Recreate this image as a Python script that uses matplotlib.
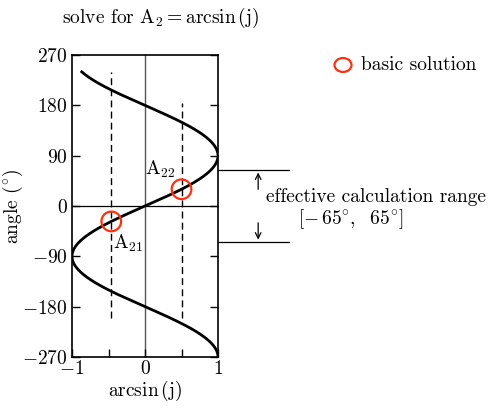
import numpy as np
import matplotlib
matplotlib.use("Agg")
import matplotlib.pyplot as plt

plt.rcParams['font.family'] = ['cmr10', 'DejaVu Serif']
plt.rcParams['mathtext.fontset'] = 'cm'
plt.rcParams['axes.unicode_minus'] = False

# curve: arcsin(j) = sin(angle), angle swept in degrees
angle_start = -270
angle_end = 240

# solution points (angle in degrees)
sol_names = [r"$\mathrm{A}_{21}$", r"$\mathrm{A}_{22}$"]
sol_angles = [-27.5, 30]

# dashed guide lines: x position, lower and upper angle
guide_x = [-0.46, 0.5]
guide_lo = [-200, -200]
guide_hi = [240, 184]

# effective range limits
range_lim = [-65, 65]

yticks = [-270, -180, -90, 0, 90, 180, 270]
xticks = [-1, 0, 1]
xminor = [-0.5, 0.5]

FS = 14

fig = plt.figure(figsize=(4.99, 4.08), dpi=100)
ax = fig.add_axes([0.1443, 0.125, 0.2926, 0.740])

theta = np.linspace(angle_start, angle_end, 600)
ax.plot(np.sin(np.radians(theta)), theta, color='black', lw=2.0, zorder=3)

for gx, lo, hi in zip(guide_x, guide_lo, guide_hi):
    ax.plot([gx, gx], [lo, hi], color='black', lw=1.0, ls=(0, (5, 3)), zorder=2)

ax.axhline(0, color='black', lw=0.9, zorder=1)
ax.axvline(0, color='#555555', lw=1.0, zorder=1)

sx = np.sin(np.radians(sol_angles))
ax.scatter(sx, sol_angles, s=200, facecolors='none', edgecolors='#ff3010',
           linewidths=1.6, zorder=4)
ax.text(sx[0] + 0.02, sol_angles[0] - 20, sol_names[0], fontsize=FS,
        ha='left', va='top')
ax.text(sx[1] - 0.08, sol_angles[1] + 16, sol_names[1], fontsize=FS,
        ha='right', va='bottom')

ax.set_xlim(-1, 1)
ax.set_ylim(-270, 270)
ax.set_yticks(yticks)
ax.set_yticklabels([f"${v}$" for v in yticks])
ax.set_xticks(xticks)
ax.set_xticklabels([f"${v}$" for v in xticks])
ax.set_xticks(xminor, minor=True)
ax.tick_params(direction='in', length=6, width=1, labelsize=FS,
               right=True, top=False, pad=3)
ax.tick_params(axis='x', pad=2)
ax.tick_params(which='minor', direction='in', length=6, width=1, top=False)
for s in ax.spines.values():
    s.set_linewidth(1.2)

ax.set_xlabel(r"arcsin$\,$(j)", fontsize=FS)
ax.set_ylabel(r"angle $(^{\circ})$", fontsize=FS)
ax.xaxis.set_label_coords(0.5, -0.072)
ax.yaxis.set_label_coords(-0.32, 0.5)

# effective range bracket on the right of the axes
for v in range_lim:
    ax.plot([1, 1.97], [v, v], color='black', lw=0.9, clip_on=False)
ax.annotate('', xy=(1.55, range_lim[1]), xytext=(1.55, 25),
            arrowprops=dict(arrowstyle='->', lw=0.9, color='black'),
            annotation_clip=False)
ax.annotate('', xy=(1.55, range_lim[0]), xytext=(1.55, -25),
            arrowprops=dict(arrowstyle='->', lw=0.9, color='black'),
            annotation_clip=False)
ax.text(1.66, 17, "effective calculation range", fontsize=FS,
        ha='left', va='center')
ax.text(2.1, -24, r"$[-\,65^{\circ},\ \ 65^{\circ}]$", fontsize=FS,
        ha='left', va='center')

# title and legend marker
fig.text(0.124, 0.955,
         r"solve for $\mathrm{A}_2=\mathrm{arcsin}\,(\mathrm{j})$",
         fontsize=FS, ha='left', va='center')
fig.patches.append(matplotlib.patches.Circle(
    (343 / 499, 1 - 65 / 408), 8.5 / 499, transform=fig.transFigure,
    fill=False, edgecolor='#ff3010', lw=1.6))
fig.text(361 / 499, 1 - 65 / 408, "basic solution", fontsize=FS,
         ha='left', va='center')

fig.savefig('out.png', dpi=100)
